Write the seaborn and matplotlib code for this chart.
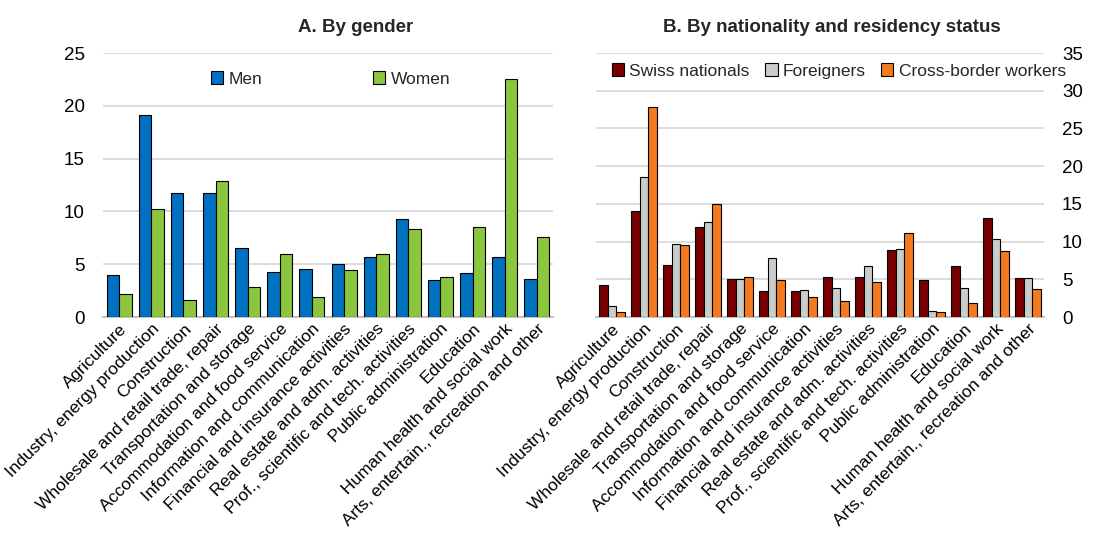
import matplotlib
matplotlib.use("Agg")
import matplotlib.pyplot as plt
from matplotlib.patches import Patch
import seaborn as sns
import pandas as pd

sectors = [
    "Agriculture", "Industry, energy production", "Construction",
    "Wholesale and retail trade, repair", "Transportation and storage",
    "Accommodation and food service", "Information and communication",
    "Financial and insurance activities", "Real estate and adm. activities",
    "Prof., scientific and tech. activities", "Public administration",
    "Education", "Human health and social work",
    "Arts, entertain., recreation and other",
]

men = [4.0, 19.1, 11.75, 11.7, 6.5, 4.25, 4.5, 5.0, 5.65, 9.25, 3.5, 4.2, 5.7, 3.6]
women = [2.15, 10.2, 1.65, 12.85, 2.8, 6.0, 1.9, 4.45, 5.95, 8.35, 3.75, 8.5, 22.55, 7.55]

swiss = [4.3, 14.1, 6.9, 11.9, 5.05, 3.5, 3.5, 5.25, 5.25, 8.85, 4.95, 6.8, 13.1, 5.15]
foreigners = [1.45, 18.55, 9.65, 12.6, 5.1, 7.8, 3.55, 3.85, 6.8, 9.05, 0.85, 3.85, 10.3, 5.15]
cross_border = [0.65, 27.8, 9.5, 14.95, 5.3, 4.9, 2.6, 2.1, 4.7, 11.15, 0.6, 1.85, 8.75, 3.7]

gender_groups = ["Men", "Women"]
nat_groups = ["Swiss nationals", "Foreigners", "Cross-border workers"]

title_a = "A. By gender"
title_b = "B. By nationality and residency status"

sns.set_theme(style="white")
plt.rcParams["font.family"] = ["Liberation Sans", "DejaVu Sans"]
fs = 12.5
fs_y = 13.5
fs_title = 13.5

df_a = pd.DataFrame({
    "sector": sectors * 2,
    "value": men + women,
    "group": [gender_groups[0]] * len(sectors) + [gender_groups[1]] * len(sectors),
})
df_b = pd.DataFrame({
    "sector": sectors * 3,
    "value": swiss + foreigners + cross_border,
    "group": [nat_groups[0]] * len(sectors) + [nat_groups[1]] * len(sectors)
             + [nat_groups[2]] * len(sectors),
})

W, H = 1120, 547
fig = plt.figure(figsize=(W / 100, H / 100), dpi=100)

def fx(px):
    return px / W

def fy(py):
    return 1 - py / H

ax_a = fig.add_axes([fx(103), fy(317), fx(553) - fx(103), (317 - 53) / H])
ax_b = fig.add_axes([fx(596), fy(317), fx(1044) - fx(596), (317 - 53) / H])

pal_a = {"Men": "#0070c0", "Women": "#8cc63f"}
pal_b = {"Swiss nationals": "#780000", "Foreigners": "#cccccc",
         "Cross-border workers": "#f47a20"}

sns.barplot(data=df_a, x="sector", y="value", hue="group", palette=pal_a,
            order=sectors, hue_order=gender_groups, ax=ax_a, width=0.78,
            saturation=1, edgecolor="black", linewidth=0.8, legend=False, zorder=3)
sns.barplot(data=df_b, x="sector", y="value", hue="group", palette=pal_b,
            order=sectors, hue_order=nat_groups, ax=ax_b, width=0.84,
            saturation=1, edgecolor="black", linewidth=0.8, legend=False, zorder=3)

grid_c = "#d9d9d9"
for ax, ymax in [(ax_a, 25), (ax_b, 35)]:
    ax.set_ylim(0, ymax)
    ax.set_xlim(-0.5, len(sectors) - 0.5)
    ax.set_yticks(range(0, ymax + 1, 5))
    ax.yaxis.grid(True, color=grid_c, linewidth=1.3, zorder=0)
    ax.xaxis.grid(False)
    for s in ["top", "left", "right"]:
        ax.spines[s].set_visible(False)
    ax.spines["bottom"].set_color("#bfbfbf")
    ax.spines["bottom"].set_linewidth(1.3)
    ax.set_xlabel("")
    ax.set_ylabel("")
    ax.tick_params(axis="both", length=0, colors="black")
    ax.tick_params(axis="y", pad=13, labelsize=fs_y)
    ax.tick_params(axis="x", pad=3, labelsize=fs)
    ax.set_xticks(range(len(sectors)))
    ax.set_xticklabels(sectors, rotation=45, ha="right", va="top",
                       rotation_mode="anchor", fontsize=fs)
    ax.set_axisbelow(True)

ax_b.yaxis.tick_right()
ax_b.tick_params(axis="y", pad=13)

fig.text(fx(356), fy(28), title_a, ha="center", va="center",
         fontsize=fs_title, fontweight="bold")
fig.text(fx(832), fy(28), title_b, ha="center", va="center",
         fontsize=fs_title, fontweight="bold")

h_a = [Patch(facecolor=pal_a[g], edgecolor="black", linewidth=0.8) for g in gender_groups]
fig.legend(h_a, gender_groups, loc="center left",
           bbox_to_anchor=(fx(211), fy(79)), ncol=2, frameon=False,
           fontsize=fs, handlelength=0.7, handleheight=0.7,
           handletextpad=0.3, columnspacing=6.4,
           borderpad=0, borderaxespad=0)
h_b = [Patch(facecolor=pal_b[g], edgecolor="black", linewidth=0.8) for g in nat_groups]
fig.legend(h_b, nat_groups, loc="center left",
           bbox_to_anchor=(fx(612), fy(71)), ncol=3, frameon=False,
           fontsize=fs, handlelength=0.7, handleheight=0.7,
           handletextpad=0.3, columnspacing=0.9,
           borderpad=0, borderaxespad=0)

fig.savefig("out.png", dpi=100)
